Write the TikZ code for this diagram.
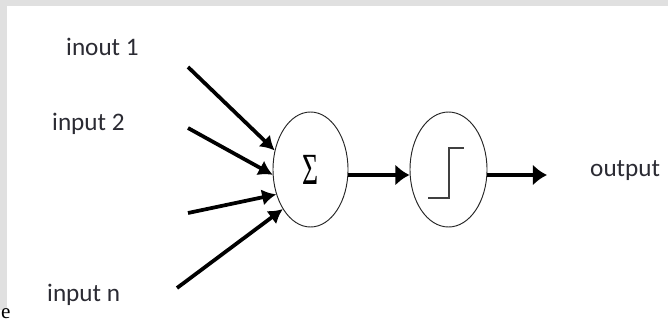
\documentclass[tikz,border=0pt]{standalone}
\usepackage{fontspec}
\setmainfont{Carlito}
\newfontfamily\serife{Liberation Serif}
\usetikzlibrary{arrows.meta,shapes.geometric}
\definecolor{frame}{HTML}{E0E0E0}
\definecolor{ink}{HTML}{2B2B33}

\begin{document}
\begin{tikzpicture}[
	unit/.style={ellipse, draw=black!85, line width=0.8pt, inner sep=0pt,
		minimum height=3.45cm},
	lbl/.style={anchor=base west, text=ink, inner sep=0pt,
		font=\fontsize{21.5}{24}\selectfont},
	feed/.style={line width=3.2pt, -{Latex[length=12pt,width=14pt]}},
	flow/.style={line width=3.2pt, -{Latex[length=12pt,width=18pt]}}
	]
				\useasboundingbox (0,0) rectangle (20.04,-9.75);
				\fill[white] (0,0) rectangle (20.04,-9.75);
				\fill[frame] (0,0) rectangle (20.04,-0.18);
				\fill[frame] (0,0) rectangle (0.21,-9.3);
				% the two units
				\node[unit, minimum width=2.25cm] (sum) at(9.315,-5.085){\scalebox{0.62}[1]{\serife\fontsize{38}{40}\selectfont Σ}};
				\node[unit, minimum width=2.31cm] (act) at(13.455,-5.085){};
				\draw[line width=1.4pt, black!75] ([shift={(-0.615,-0.855)}]act.center) -- ++(0.63,0) -- ++(0,1.5) -- ++(0.45,0);
				% inputs
				\coordinate (in1) at(5.64,-2.01);
				\coordinate (in2) at(5.64,-3.84);
				\coordinate (in3) at(5.64,-6.39);
				\coordinate (in4) at(5.31,-8.64);
				\coordinate (out) at(16.41,-5.25);
				\draw[feed] (in1) -- (sum.152);
				\draw[feed] (in2) -- (sum.188);
				\draw[feed] (in3) -- (sum.216);
				\draw[feed] (in4) -- (sum.235);
				\draw[flow] ([yshift=-0.165cm]sum.east) -- ([yshift=-0.165cm]act.west);
				\draw[flow] ([yshift=-0.165cm]act.east) -- (out);
				% labels
				\node[lbl] (lin1) at(1.98,-1.65){inout 1};
				\node[lbl] (lin2) at(1.56,-3.9){input 2};
				\node[lbl] (linn) at(1.41,-9.03){input n};
				\node[lbl] (lout) at(17.7,-5.28){output};
				\node[anchor=base west, inner sep=0pt, font=\serife\fontsize{18}{20}\selectfont] (cut) at(0.03,-9.56){e};
			\end{tikzpicture}
\end{document}
